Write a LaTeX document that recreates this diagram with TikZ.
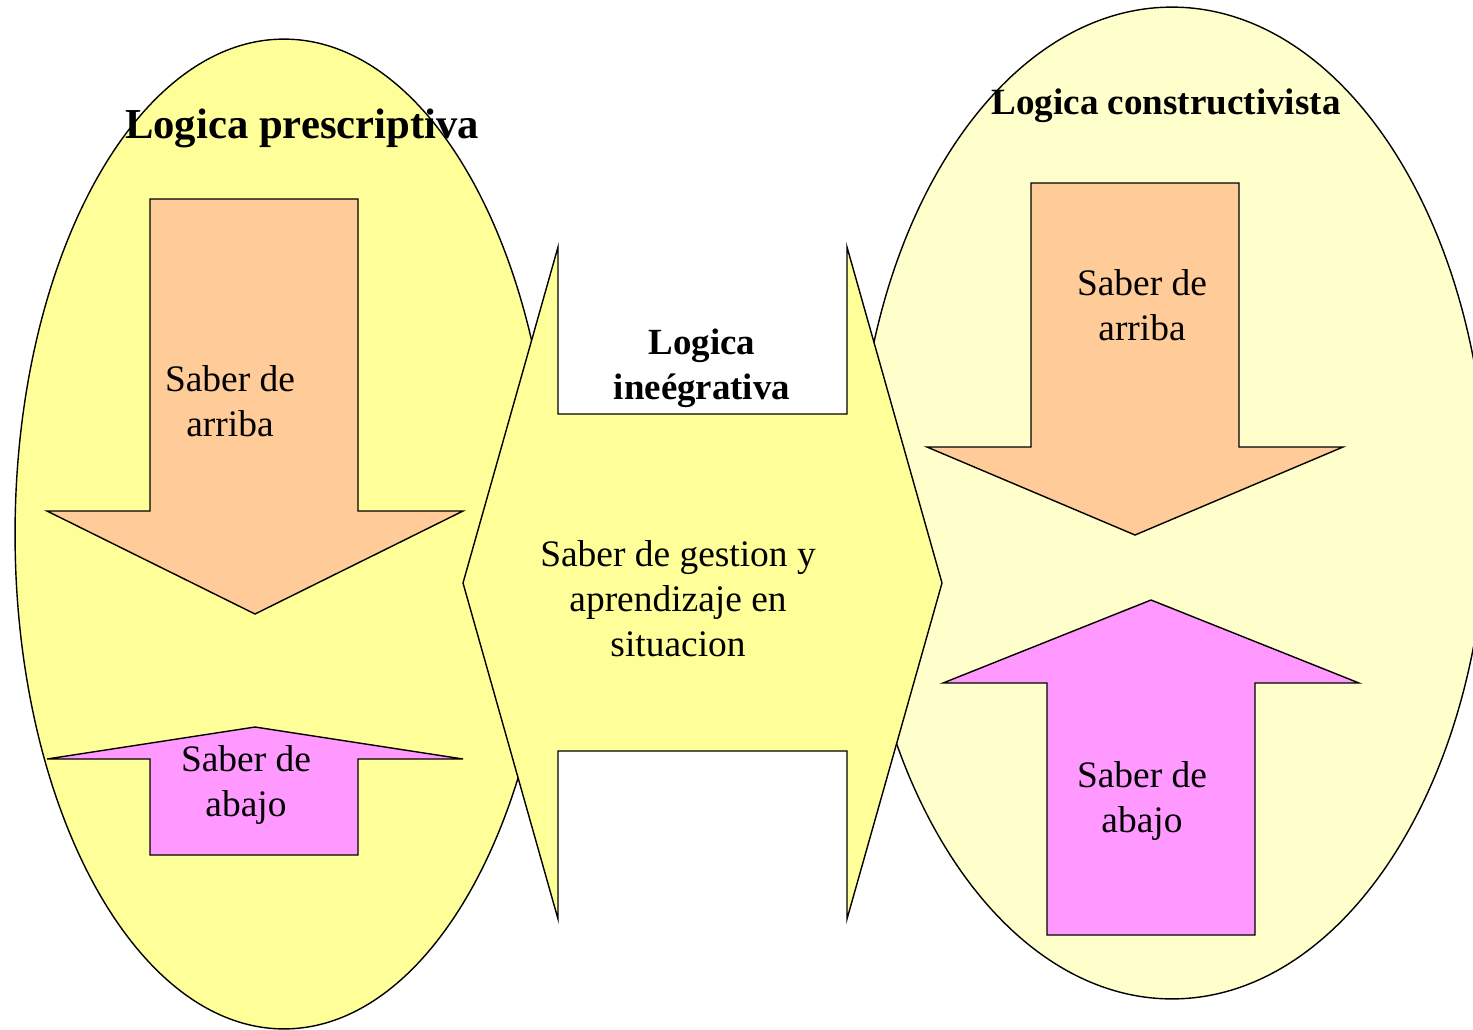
\documentclass[tikz,border=0pt]{standalone}
\usepackage{fontspec}
\setmainfont{Liberation Serif}
\definecolor{amarillo}{HTML}{FFFF99}
\definecolor{crema}{HTML}{FFFFCC}
\definecolor{naranja}{HTML}{FFCC99}
\definecolor{rosa}{HTML}{FF99FF}
\tikzset{forma/.style={draw=black, line width=0.8pt, line join=miter},
  txt/.style={align=center, inner sep=0pt, font=\fontsize{21.3}{25.6}\selectfont},
  titulo/.style={inner sep=0pt, font=\bfseries\fontsize{24.3}{29}\selectfont}}
\begin{document}
\begin{tikzpicture}[x=0.02cm,y=-0.02cm]
            \useasboundingbox (0,0) rectangle (1473,1029);
            \clip (0,0) rectangle (1473,1029);
            \filldraw[forma,fill=amarillo] (284,534) ellipse [x radius=5.38cm, y radius=9.9cm];
            \filldraw[forma,fill=crema] (1172,503) ellipse [x radius=6.3cm, y radius=9.92cm];
            \filldraw[forma,fill=amarillo] (463,583)--(558,247)--(558,414)--(847,414)--(847,247)--(942,583)--(847,919)--(847,751)--(558,751)--(558,919)--cycle;
            \filldraw[forma,fill=naranja] (150,199)--(358,199)--(358,511)--(463,511)--(255,614)--(47,511)--(150,511)--cycle;
            \filldraw[forma,fill=rosa] (150,855)--(358,855)--(358,759)--(463,759)--(255,727)--(47,759)--(150,759)--cycle;
            \filldraw[forma,fill=naranja] (1031,183)--(1239,183)--(1239,447)--(1343,447)--(1135,535)--(927,447)--(1031,447)--cycle;
            \filldraw[forma,fill=rosa] (1047,935)--(1255,935)--(1255,683)--(1359,683)--(1151,600)--(943,683)--(1047,683)--cycle;
            \node[titulo] (prescrip) at (302,128) {Logica prescriptiva};
            \node[titulo,font=\bfseries\fontsize{21.1}{25}\selectfont] (construc) at (1166,106) {Logica constructivista};
            \node[txt] (arribaL) at (230,401) {Saber de\\arriba};
            \node[txt] (abajoL) at (246,785) {Saber de\\abajo};
            \node[txt,font=\bfseries\fontsize{21}{25.6}\selectfont] (integ) at (702,368) {Logica\\ineégrativa};
            \node[txt] (gestion) at (678,599) {Saber de gestion y\\aprendizaje en\\situacion};
            \node[txt] (arribaR) at (1142,305) {Saber de\\arriba};
            \node[txt] (abajoR) at (1142,801) {Saber de\\abajo};
        \end{tikzpicture}
\end{document}
